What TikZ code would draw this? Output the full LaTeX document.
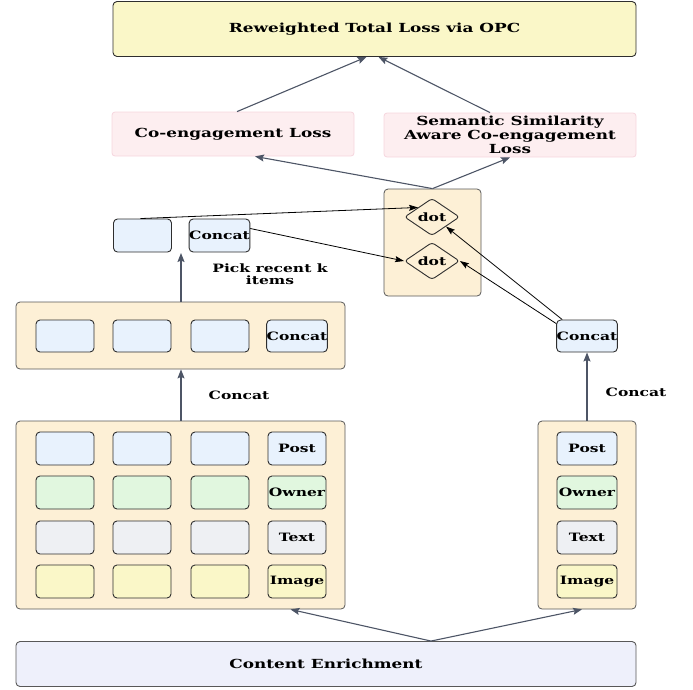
\documentclass[tikz,border=0pt]{standalone}
\usepackage{fontspec}
\setmainfont{DejaVu Serif}[FakeStretch=1.35]
\usetikzlibrary{shapes.geometric,arrows.meta}
\definecolor{edge}{HTML}{2E2E2E}
\definecolor{arrgray}{HTML}{4D5566}
\definecolor{yellowF}{HTML}{FAF7C8}
\definecolor{pinkF}{HTML}{FDEEF0}
\definecolor{pinkD}{HTML}{F6D6DE}
\definecolor{beigeF}{HTML}{FDF0D6}
\definecolor{blueF}{HTML}{E8F2FD}
\definecolor{greenF}{HTML}{E1F7DF}
\definecolor{grayF}{HTML}{EEF0F3}
\definecolor{lavF}{HTML}{EEF0FB}
\tikzset{
  txt/.style={font=\bfseries\fontsize{12.5}{14}\selectfont, align=center},
  small/.style={font=\bfseries\fontsize{11.5}{12.5}\selectfont},
  rbox/.style={draw=edge, line width=0.9pt, rounded corners=4pt, inner sep=0pt},
  cont/.style={draw=edge!80, line width=0.8pt, rounded corners=4pt, fill=beigeF, inner sep=0pt},
  lossbox/.style={draw=pinkD, line width=0.8pt, rounded corners=3pt, fill=pinkF, inner sep=0pt, txt},
  cell/.style={rbox, minimum width=58pt, minimum height=32pt, small},
  garrow/.style={draw=arrgray, line width=1.1pt, -{Stealth[length=9pt,width=7pt,inset=1.5pt]}},
  karrow/.style={draw=black, line width=0.8pt, -{Stealth[length=9pt,width=6pt,inset=1.5pt]}},
  dotnode/.style={diamond, draw=edge, line width=0.9pt, fill=beigeF, minimum width=55pt, minimum height=30pt, inner sep=0pt, rounded corners=3pt, small}
}
\begin{document}
\begin{tikzpicture}[x=1pt,y=-1pt]
\useasboundingbox (0,0) rectangle (693,689);
% top
\node[rbox, fill=yellowF, minimum width=523pt, minimum height=55pt, txt] (top) at (374.5,29) {Reweighted Total Loss via OPC};
% losses
\node[lossbox, minimum width=242pt, minimum height=44pt] (coeng) at (233,134) {Co-engagement Loss};
\node[lossbox, minimum width=252pt, minimum height=44pt] (sem) at (510,135) {Semantic Similarity\\Aware Co-engagement\\Loss};
% dot container
\node[cont, minimum width=97pt, minimum height=107pt] (dotc) at (432.5,242.5) {};
\node[dotnode] (dot1) at (432,217) {dot};
\node[dotnode] (dot2) at (432,261) {dot};
% selected
\node[cell, fill=blueF, minimum height=33pt] (blank) at (142.5,235.5) {};
\node[cell, fill=blueF, minimum height=33pt] (concS) at (219.5,235.5) {Concat};
\node[small, align=center] (pick) at (270,274) {Pick recent k\\items};
% middle container
\node[cont, minimum width=329pt, minimum height=67pt] (mid) at (180.5,335.5) {};
\node[cell, fill=blueF] (m1) at (65,336) {};
\node[cell, fill=blueF] (m2) at (142,336) {};
\node[cell, fill=blueF] (m3) at (220,336) {};
\node[cell, fill=blueF] (m4) at (297,336) {Concat};
\coordinate (gap) at (181,253);
\node[small] (lblL) at (239,395) {Concat};
% big container
\node[cont, minimum width=329pt, minimum height=188pt] (big) at (180.5,515) {};
\foreach \x [count=\i] in {65,142,220} {
  \node[cell, fill=blueF, minimum height=33pt] (p\i) at (\x,448.5) {};
  \node[cell, fill=greenF, minimum height=33pt] (o\i) at (\x,492.5) {};
  \node[cell, fill=grayF, minimum height=33pt] (t\i) at (\x,537.5) {};
  \node[cell, fill=yellowF, minimum height=33pt] (im\i) at (\x,581.5) {};
}
\node[cell, fill=blueF, minimum height=33pt] (p4) at (297,448.5) {Post};
\node[cell, fill=greenF, minimum height=33pt] (o4) at (297,492.5) {Owner};
\node[cell, fill=grayF, minimum height=33pt] (t4) at (297,537.5) {Text};
\node[cell, fill=yellowF, minimum height=33pt] (im4) at (297,581.5) {Image};
% right container
\node[cont, minimum width=98pt, minimum height=188pt] (rc) at (587,515) {};
\node[cell, fill=blueF, minimum width=60pt, minimum height=33pt] (rp) at (587,448.5) {Post};
\node[cell, fill=greenF, minimum width=60pt, minimum height=33pt] (ro) at (587,492.5) {Owner};
\node[cell, fill=grayF, minimum width=60pt, minimum height=33pt] (rt) at (587,537.5) {Text};
\node[cell, fill=yellowF, minimum width=60pt, minimum height=33pt] (ri) at (587,581.5) {Image};
\node[cell, fill=blueF, minimum width=60pt] (concR) at (587,336) {Concat};
\node[small] (lblR) at (636,392) {Concat};
% content enrichment
\node[rbox, fill=lavF, draw=edge!80, minimum width=620pt, minimum height=45pt, txt] (ce) at (326,664) {Content Enrichment};
% arrows gray
\draw[garrow] ([xshift=4pt]coeng.north) -- ([xshift=-8pt]top.south);
\draw[garrow] ([xshift=-20pt]sem.north) -- ([xshift=4pt]top.south);
\draw[garrow] (dotc.north) -- ([xshift=22pt]coeng.south);
\draw[garrow] (dotc.north) -- (sem.south);
\draw[garrow] (mid.north -| gap) -- (gap);
\draw[garrow] (big.north -| gap) -- (mid.south -| gap);
\draw[garrow] (rc.north) -- (concR.south);
\draw[garrow] ([xshift=105pt]ce.north) -- ([xshift=110pt]big.south);
\draw[garrow] ([xshift=105pt]ce.north) -- ([xshift=-5pt]rc.south);
% arrows black
\draw[karrow] ([xshift=-2pt]blank.north) -- (dot1.north west);
\draw[karrow] ([yshift=7pt]concS.east) -- (dot2.west);
\draw[karrow] ([xshift=6pt]concR.north west) -- (dot1.south east);
\draw[karrow] ([yshift=-4pt]concR.north west) -- (dot2.east);
\end{tikzpicture}
\end{document}
